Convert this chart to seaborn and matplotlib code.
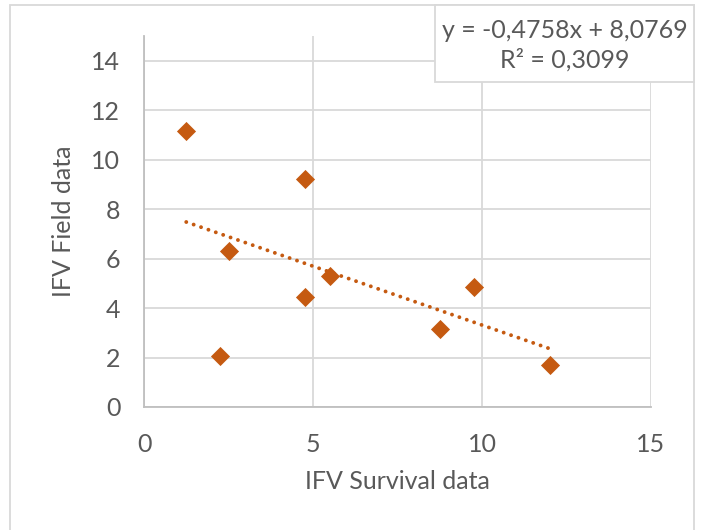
import matplotlib.pyplot as plt
import matplotlib.patches as mpatches
import numpy as np
import pandas as pd
import seaborn as sns

survival = [1.25, 4.75, 2.5, 5.5, 4.75, 9.75, 8.75, 2.25, 12.0]
field = [11.15, 9.2, 6.3, 5.3, 4.45, 4.85, 3.15, 2.05, 1.7]
eq_text = 'y = -0,4758x + 8,0769'
r2_text = 'R² = 0,3099'

df = pd.DataFrame({'IFV Survival data': survival, 'IFV Field data': field})

sns.set_style('white')
plt.rcParams['font.family'] = ['Lato', 'DejaVu Sans']

orange = '#C55A11'
grey_txt = '#595959'
fs = 18

fig = plt.figure(figsize=(7.04, 5.30), dpi=100)
ax = fig.add_axes([144/704, 1 - 407/530, (651-144)/704, (407-36)/530])

# trendline (linear fit)
k, b = np.polyfit(df['IFV Survival data'], df['IFV Field data'], 1)
xs = np.array([df['IFV Survival data'].min(), df['IFV Survival data'].max()])
ax.plot(xs, k*xs + b, color=orange, lw=2.8, linestyle=(0, (0.01, 2.0)),
        dash_capstyle='round', zorder=2)

sns.scatterplot(data=df, x='IFV Survival data', y='IFV Field data', marker='D',
                s=95, color=orange, edgecolor=orange, linewidth=0, ax=ax, zorder=3)

ax.set_xlim(0, 15)
ax.set_ylim(0, 15)
ax.set_xticks([0, 5, 10, 15])
ax.set_yticks(range(0, 15, 2))
ax.grid(True, color='#D9D9D9', lw=1.3)
ax.set_axisbelow(True)
for s in ['top', 'right']:
    ax.spines[s].set_visible(False)
for s in ['left', 'bottom']:
    ax.spines[s].set_color('#BFBFBF')
    ax.spines[s].set_linewidth(1.3)
ax.tick_params(length=0, labelsize=fs, colors=grey_txt, pad=17)
ax.tick_params(axis='x', pad=19)
ax.set_xlabel('IFV Survival data', fontsize=fs, color=grey_txt, labelpad=10)
ax.set_ylabel('IFV Field data', fontsize=fs, color=grey_txt, labelpad=12)

# chart border
fig.patches.append(mpatches.Rectangle((10/704, -0.1), (694-10)/704, 1.1 - 5/530,
                                      transform=fig.transFigure, fill=False,
                                      ec='#D9D9D9', lw=1.3))
# equation box
fig.patches.append(mpatches.Rectangle((435/704, 1 - 82/530), (694-435)/704, (82-5)/530,
                                      transform=fig.transFigure, fc='white',
                                      ec='#D9D9D9', lw=1.3, zorder=5))
fig.text(565/704, 1 - 30/530, eq_text, ha='center', va='center', fontsize=fs,
         color=grey_txt, zorder=6)
fig.text(565/704, 1 - 60/530, r2_text, ha='center', va='center', fontsize=fs,
         color=grey_txt, zorder=6)

plt.savefig('out.png', dpi=100)
